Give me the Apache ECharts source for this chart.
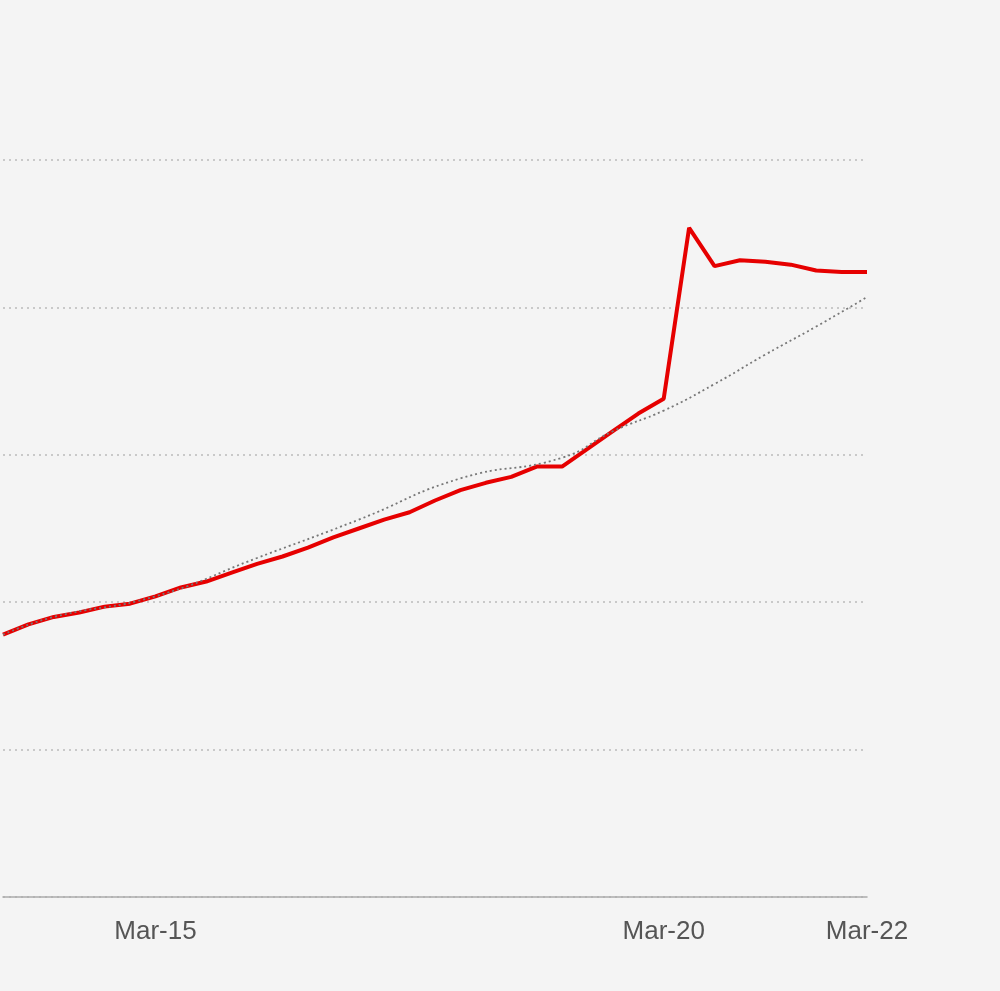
<!DOCTYPE html>
<html><head><meta charset="utf-8">
<script src="https://cdn.jsdelivr.net/npm/echarts@6/dist/echarts.min.js"></script>
<style>html,body{margin:0;padding:0;background:#f4f4f4}#c{width:1000px;height:991px}</style>
</head><body><div id="c"></div>
<script>
// x in days of March
const startDay = 13.5, step = 0.25;
const actualValues = [1.78,1.85,1.90,1.93,1.97,1.99,2.04,2.10,2.14,2.20,2.26,2.31,2.37,2.44,2.50,2.56,2.61,2.69,2.76,2.81,2.85,2.92,2.92,3.04,3.16,3.28,3.38,4.54,4.28,4.32,4.31,4.29,4.25,4.24,4.24];
const trendDays = [13.5,14,15,16,17,18,19,19.5,20,20.5,21,21.5,22];
const trendValues = [1.78,1.90,2.04,2.30,2.56,2.84,2.98,3.16,3.30,3.48,3.68,3.87,4.07];
const tickLabels = {15:'Mar-15',20:'Mar-20',22:'Mar-22'};
const actual = actualValues.map((v,i)=>[startDay+i*step,v]);
const trend = trendDays.map((d,i)=>[d,trendValues[i]]);
const chart = echarts.init(document.getElementById('c'));
chart.setOption({
  backgroundColor:'#f4f4f4', animation:false,
  grid:{left:0,right:133,top:160,bottom:94},
  xAxis:{type:'value',min:13.5,max:22,interval:0.5,
    axisLine:{show:true,lineStyle:{color:'#aaaaaa',width:1.5}},axisTick:{show:false},splitLine:{show:false},
    axisLabel:{margin:22,fontSize:26,color:'#555',fontFamily:'Liberation Sans',showMinLabel:true,showMaxLabel:true,
      formatter:v=>tickLabels[Math.round(v*100)/100]||''}},
  yAxis:{type:'value',min:0,max:5,interval:1,axisLine:{show:false},axisTick:{show:false},axisLabel:{show:false},
    splitLine:{lineStyle:{color:'#bbbbbb',type:[2,4],width:1.5}}},
  series:[
    {type:'line',data:actual,showSymbol:false,lineStyle:{color:'#e60000',width:4},z:2},
    {type:'line',data:trend,smooth:true,showSymbol:false,lineStyle:{color:'#777',width:1.8,type:[2,3]},z:3}
  ]
});
</script></body></html>
